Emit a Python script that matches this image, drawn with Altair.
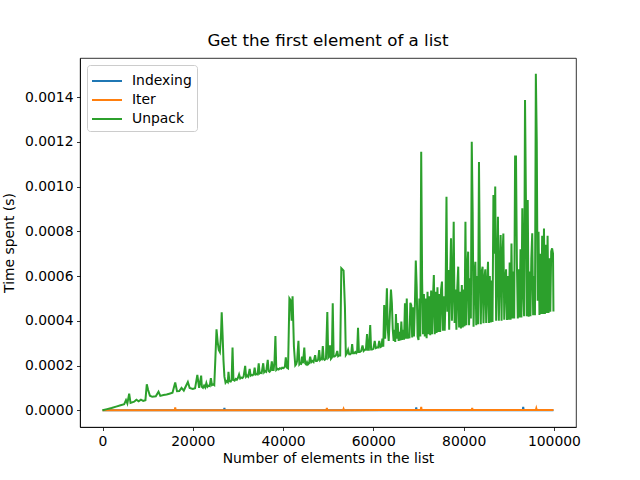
import altair as alt
import pandas as pd

# Timings for fetching the first element of a list, by list length.
series_names = ["Indexing", "Iter", "Unpack"]
series_colors = ["#1f77b4", "#ff7f0e", "#2ca02c"]

x_ticks = [0, 20000, 40000, 60000, 80000, 100000]
y_ticks = [0.0, 0.0002, 0.0004, 0.0006, 0.0008, 0.0010, 0.0012, 0.0014]

indexing_n = [0, 5000, 10000, 15000, 20000, 26900, 27000, 27100, 35000, 45000,
              55000, 65000, 69400, 69500, 69600, 75000, 85000, 93100, 93200,
              93300, 99900]
indexing_t = [1e-7, 2e-7, 2e-7, 2e-7, 2e-7, 2e-7, 1.0e-5, 2e-7, 2e-7, 2e-7,
              2e-7, 3e-7, 3e-7, 1.3e-5, 3e-7, 3e-7, 3e-7, 3e-7, 1.5e-5,
              3e-7, 3e-7]

iter_n = [0, 8000, 16000, 16100, 16200, 30000, 49600, 49700, 49800, 53300,
          53400, 53500, 62000, 70500, 70600, 70700, 81800, 81900, 82000,
          96000, 96100, 96200, 99900]
iter_t = [2e-7, 4e-7, 4e-7, 1.2e-5, 4e-7, 4e-7, 4e-7, 1.0e-5, 4e-7, 4e-7,
          6e-6, 4e-7, 5e-7, 5e-7, 1.5e-5, 5e-7, 5e-7, 1.0e-5, 5e-7,
          5e-7, 8e-6, 5e-7, 5e-7]

# Unpack timings as (list length, time in units of 1e-4 s)
unpack_points = [
    (0, 0.0), (1000, 0.05), (2000, 0.10), (3000, 0.16), (4000, 0.22),
    (4800, 0.27), (5200, 0.45), (5500, 0.30), (5900, 0.74), (6200, 0.33),
    (7000, 0.38), (7500, 0.47), (8000, 0.40), (8500, 0.47), (9000, 0.42),
    (9500, 0.45), (9800, 1.16), (10100, 0.90), (10500, 0.65), (11000, 0.60),
    (11800, 0.62), (12400, 0.83), (12800, 0.64), (13500, 0.68), (14200, 0.70),
    (14800, 0.74), (15500, 0.78), (16100, 1.24), (16500, 0.85), (17000, 0.86),
    (17500, 1.00), (18000, 0.88), (18900, 1.26), (19300, 1.00), (20000, 0.95),
    (20500, 0.98), (21000, 1.58), (21400, 1.00), (21850, 1.55),
    (22000, 1.05), (22250, 1.00), (22500, 1.10), (22750, 1.02), (23000, 1.22),
    (23250, 1.05), (23500, 1.10), (23750, 1.08), (24000, 1.43), (24250, 1.12),
    (24500, 1.15), (24750, 1.12), (25000, 2.32), (25250, 3.62), (25500, 3.06),
    (25750, 2.70), (26000, 2.60), (26250, 3.40), (26400, 4.38), (26600, 3.36),
    (26800, 2.20), (27000, 1.50), (27250, 1.23), (27500, 1.30), (27750, 1.25),
    (27900, 1.72), (28100, 1.30), (28400, 1.28), (28600, 1.35), (28800, 2.80),
    (29000, 1.35), (29250, 1.32), (29500, 1.40), (29750, 1.36), (30000, 1.45),
    (30250, 1.60), (30500, 1.42), (30750, 1.46), (31000, 1.44), (31250, 1.50),
    (31600, 1.98), (31800, 1.50), (32000, 1.55), (32250, 1.50), (32600, 1.85),
    (32800, 1.55), (33000, 1.58), (33250, 1.56), (33500, 1.62), (33700, 1.90),
    (33900, 1.60), (34100, 1.62), (34350, 1.60), (34600, 2.10), (34800, 1.65),
    (35000, 1.68), (35250, 1.66), (35600, 2.10), (35800, 1.70), (36000, 1.75),
    (36250, 1.72), (36600, 2.25), (36800, 1.75), (37000, 1.72), (37250, 1.78),
    (37500, 2.18), (37700, 1.80), (37900, 1.80), (38100, 2.20), (38300, 3.32),
    (38500, 1.80), (38750, 1.85), (39000, 1.82), (39300, 1.88), (39600, 1.85),
    (39800, 1.90), (40100, 1.88), (40400, 1.95), (40600, 2.36), (40850, 1.90),
    (41100, 1.87), (41400, 5.00), (41700, 4.90), (41900, 4.00), (42100, 5.10),
    (42400, 2.84), (42700, 2.00), (42900, 2.05), (43100, 2.20), (43400, 3.10),
    (43600, 2.05), (43800, 2.10), (44000, 2.08), (44200, 2.40), (44400, 2.10),
    (44700, 2.80), (44900, 2.10), (45100, 2.05), (45300, 2.15), (45500, 2.05),
    (45750, 2.10), (46000, 2.39), (46250, 2.15), (46500, 2.20), (46750, 2.15),
    (47100, 2.46), (47300, 2.20), (47500, 2.20), (47750, 2.25), (48000, 2.69),
    (48200, 2.25), (48400, 2.30), (48600, 2.28), (48800, 2.87), (49000, 2.30),
    (49200, 2.25), (49500, 2.30), (49800, 4.39), (50000, 2.35), (50200, 2.40),
    (50400, 2.90), (50600, 2.30), (50800, 2.35), (51000, 4.78), (51200, 2.40),
    (51400, 2.40), (51700, 2.45), (52000, 2.65), (52200, 2.42), (52400, 2.45),
    (52650, 2.45), (52900, 6.35), (53150, 6.30), (53400, 6.24), (53700, 4.63),
    (53900, 2.47), (54150, 2.55), (54400, 2.70), (54650, 2.50), (54900, 2.50),
    (55100, 2.55), (55300, 2.96), (55500, 2.55), (55750, 2.55), (56000, 2.60),
    (56200, 2.55), (56400, 2.60), (56600, 3.69), (56800, 2.60), (57000, 2.60),
    (57300, 2.65), (57600, 2.90), (57850, 2.65), (58100, 2.70), (58350, 2.70),
    (58600, 3.41), (58800, 2.70), (59000, 2.70), (59300, 3.81), (59500, 2.72),
    (59700, 2.72), (60000, 2.75), (60300, 3.10), (60550, 2.78), (60800, 2.80),
    (61050, 2.80), (61300, 3.10), (61550, 2.82), (61800, 2.85), (62000, 3.20),
    (62200, 2.84), (62400, 4.70), (62600, 3.20), (62800, 4.20), (63000, 5.45),
    (63200, 3.60), (63400, 3.10), (63600, 4.00), (63900, 5.40), (64100, 4.80),
    (64300, 3.60), (64500, 3.10), (64700, 3.60), (64850, 3.05),
    (65000, 4.30), (65200, 3.20), (65400, 3.90), (65600, 3.10), (65800, 3.50),
    (66000, 3.12), (66200, 3.96), (66400, 3.14), (66600, 3.60), (66800, 3.15),
    (67000, 4.78), (67200, 3.20), (67400, 5.00), (67600, 3.20), (67800, 3.40),
    (68000, 3.22), (68200, 4.80), (68400, 4.70), (68600, 3.25), (68800, 4.60),
    (69000, 3.30), (69200, 4.70), (69400, 6.69), (69600, 5.52), (69800, 3.30),
    (70000, 3.14), (70200, 5.00), (70400, 3.30), (70600, 11.56), (70800, 5.85),
    (71000, 3.40), (71200, 5.20), (71400, 3.30), (71600, 5.00), (71800, 3.22),
    (72000, 5.30), (72200, 3.40), (72400, 5.10), (72600, 3.35), (72800, 5.35),
    (73000, 3.40), (73200, 5.00), (73400, 6.05), (73600, 3.40), (73800, 5.30),
    (74000, 3.45), (74200, 5.50), (74400, 3.50), (74600, 5.20), (74800, 3.50),
    (75000, 5.40), (75200, 5.75), (75400, 3.55), (75600, 5.10), (75800, 3.55),
    (76000, 5.10), (76200, 9.55), (76400, 4.40), (76600, 6.27), (76800, 3.60),
    (77000, 5.80), (77200, 7.69), (77400, 4.00), (77600, 5.50), (77800, 8.43),
    (78000, 3.90), (78200, 5.40), (78400, 3.60), (78600, 5.50), (78800, 6.42),
    (79000, 3.70), (79200, 5.30), (79400, 3.65), (79600, 5.60), (79800, 3.70),
    (80000, 5.40), (80200, 3.75), (80400, 8.43), (80600, 3.80), (80800, 6.30),
    (81000, 7.09), (81200, 3.80), (81400, 5.90), (81600, 4.10), (81800, 12.00),
    (82000, 8.88), (82200, 3.73), (82400, 6.00), (82600, 6.64), (82800, 3.80),
    (83000, 6.00), (83200, 3.85), (83400, 11.10), (83600, 6.30), (83800, 3.85),
    (84000, 6.20), (84200, 6.42), (84400, 3.89), (84600, 5.90), (84800, 6.30),
    (85000, 3.90), (85200, 5.60), (85400, 6.64), (85600, 3.90), (85800, 6.00),
    (86000, 3.92), (86200, 5.80), (86400, 3.95), (86600, 9.62), (86800, 7.00),
    (87000, 10.00), (87200, 4.00), (87400, 6.00), (87600, 8.65), (87800, 4.00),
    (88000, 6.20), (88200, 7.83), (88400, 4.00), (88600, 6.90), (88800, 7.90),
    (89000, 4.05), (89200, 5.80), (89400, 6.30), (89600, 4.03), (89800, 6.00),
    (90000, 4.05), (90200, 6.60), (90400, 4.05), (90600, 7.46), (90800, 4.10),
    (91000, 6.20), (91200, 4.10), (91400, 11.34), (91600, 11.34), (91800, 6.60),
    (92000, 4.10), (92200, 6.30), (92400, 4.15), (92600, 7.20), (92800, 4.15),
    (93000, 9.03), (93200, 5.50), (93400, 4.20), (93600, 13.87), (93800, 9.40),
    (94000, 4.20), (94200, 9.40), (94400, 4.18), (94600, 6.20), (94800, 4.20),
    (95000, 6.80), (95200, 7.91), (95400, 4.25), (95600, 6.00), (95800, 4.25),
    (96000, 15.04), (96200, 12.00), (96400, 4.90), (96600, 7.98), (96800, 4.26),
    (97000, 7.00), (97200, 4.30), (97400, 7.80), (97600, 4.30), (97800, 8.13),
    (98000, 4.30), (98200, 7.40), (98400, 4.35), (98600, 7.80), (98800, 4.35),
    (99000, 6.80), (99200, 4.40), (99400, 7.10), (99600, 7.24), (99800, 7.00),
    (99900, 4.41),
]

unpack_n = [n for n, _ in unpack_points]
unpack_t = [v * 1e-4 for _, v in unpack_points]

frames = []
for i, (name, ns, ts) in enumerate(zip(series_names,
                                       [indexing_n, iter_n, unpack_n],
                                       [indexing_t, iter_t, unpack_t])):
    frames.append(pd.DataFrame({"n": ns, "t": ts, "method": name, "k": i}))
df = pd.concat(frames, ignore_index=True)

FONT = "DejaVu Sans"

chart = (
    alt.Chart(df)
    .mark_line(strokeWidth=2, clip=True)
    .encode(
        x=alt.X(
            "n:Q",
            title="Number of elements in the list",
            scale=alt.Scale(domain=[-4995, 104895], nice=False, zero=False),
            axis=alt.Axis(values=x_ticks, format="d"),
        ),
        y=alt.Y(
            "t:Q",
            title="Time spent (s)",
            scale=alt.Scale(domain=[-0.000075, 0.001575], nice=False, zero=False),
            axis=alt.Axis(values=y_ticks, format=".4f"),
        ),
        color=alt.Color(
            "method:N",
            scale=alt.Scale(domain=series_names, range=series_colors),
            legend=alt.Legend(
                title=None,
                orient="none",
                legendX=7,
                legendY=7,
                fillColor="white",
                strokeColor="#cccccc",
                cornerRadius=3,
                padding=5,
                symbolType="M-1.5,0H1.5",
                symbolSize=400,
                symbolStrokeWidth=2,
                symbolOffset=4,
                labelOffset=14,
                labelFontSize=13.9,
                labelFont=FONT,
                labelColor="black",
                rowPadding=1,
            ),
        ),
        order="k:Q",
        detail="method:N",
    )
    .properties(
        width=496,
        height=369,
        title=alt.Title("Get the first element of a list", fontSize=16.7,
                        font=FONT, fontWeight="normal", color="black", offset=8),
        autosize=alt.AutoSizeParams(type="none"),
        padding={"left": 80, "top": 58, "right": 64, "bottom": 53},
    )
    .configure(font=FONT)
    .configure_view(stroke="black", strokeWidth=0.8)
    .configure_axis(
        grid=False,
        domainColor="black",
        domainWidth=0.8,
        tickColor="black",
        tickWidth=0.8,
        tickSize=3.5,
        labelPadding=3.5,
        labelFont=FONT,
        labelFontSize=13.9,
        labelColor="black",
        titleFont=FONT,
        titleFontSize=13.9,
        titleFontWeight="normal",
        titleColor="black",
    )
    .configure_axisX(titlePadding=4)
    .configure_axisY(titlePadding=8)
)

chart.save("out.html", embed_options={"renderer": "svg", "actions": False})
